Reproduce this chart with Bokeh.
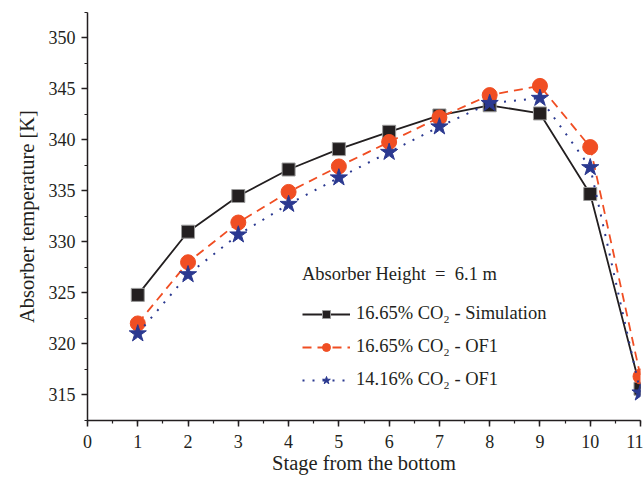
from bokeh.plotting import figure
from bokeh.models import Range1d, SingleIntervalTicker, Legend, LegendItem
from bokeh.embed import file_html
from bokeh.resources import INLINE

stages = [1, 2, 3, 4, 5, 6, 7, 8, 9, 10, 11]
sim_1665 = [324.8, 331.0, 334.5, 337.1, 339.1, 340.8, 342.4, 343.4, 342.6, 334.7, 315.6]
of1_1665 = [322.0, 328.0, 331.9, 334.9, 337.4, 339.8, 342.2, 344.4, 345.3, 339.3, 316.8]
of1_1416 = [321.0, 326.8, 330.7, 333.7, 336.3, 338.8, 341.3, 343.6, 344.1, 337.3, 315.2]
labels = ["16.65% CO\u2082 - Simulation", "16.65% CO\u2082 - OF1", "14.16% CO\u2082 - OF1"]
legend_title = "Absorber Height  =  6.1 m"

FONT = "Liberation Serif"
BLACK = "#231f20"
ORANGE = "#f04e23"
BLUE = "#2b3990"

p = figure(width=643, height=477, output_backend="svg", toolbar_location=None,
           x_range=Range1d(0, 11), y_range=Range1d(312.48, 352.5),
           min_border_left=87, min_border_right=3, min_border_top=12, min_border_bottom=57)
p.outline_line_color = None
p.xgrid.visible = False
p.ygrid.visible = False
p.background_fill_color = "white"
p.border_fill_color = "white"

p.xaxis.ticker = SingleIntervalTicker(interval=1, num_minor_ticks=2)
p.yaxis.ticker = SingleIntervalTicker(interval=5, num_minor_ticks=2)
for ax in (p.xaxis, p.yaxis):
    ax.major_label_text_font = FONT
    ax.major_label_text_font_size = "18px"
    ax.major_label_text_color = "#231f20"
    ax.axis_label_text_font = FONT
    ax.axis_label_text_font_size = "20.5px"
    ax.axis_label_text_font_style = "normal"
    ax.axis_label_text_color = "#231f20"
    ax.axis_line_color = BLACK
    ax.axis_line_width = 1.5
    ax.major_tick_line_color = BLACK
    ax.minor_tick_line_color = BLACK
    ax.major_tick_line_width = 1.5
    ax.minor_tick_line_width = 1.2
    ax.major_tick_in = 0
    ax.major_tick_out = 6
    ax.minor_tick_in = 0
    ax.minor_tick_out = 3
p.xaxis.axis_label = "Stage from the bottom"
p.yaxis.axis_label = "Absorber temperature [K]"
p.xaxis.axis_label_standoff = 1
p.yaxis.axis_label_standoff = 8
p.xaxis.major_label_standoff = 8
p.yaxis.major_label_standoff = 6

l1 = p.line(stages, sim_1665, line_color=BLACK, line_width=1.8)
m1 = p.scatter(stages, sim_1665, marker="square", size=13, fill_color=BLACK,
               line_color="#9a9a9a", line_width=1)
l2 = p.line(stages, of1_1665, line_color=ORANGE, line_width=1.8, line_dash="9 6")
m2 = p.scatter(stages, of1_1665, marker="circle", size=15, fill_color=ORANGE,
               line_color=ORANGE)
l3 = p.line(stages, of1_1416, line_color=BLUE, line_width=2, line_dash="2 8")
m3 = p.scatter(stages, of1_1416, marker="star", size=18, fill_color=BLUE,
               line_color=BLUE)

legend = Legend(items=[LegendItem(label=labels[0], renderers=[l1, m1]),
                       LegendItem(label=labels[1], renderers=[l2, m2]),
                       LegendItem(label=labels[2], renderers=[l3, m3])],
                location=(215, 30))
legend.title = legend_title
legend.title_text_font = FONT
legend.title_text_font_size = "18.5px"
legend.title_text_font_style = "normal"
legend.title_text_color = "#231f20"
legend.title_standoff = 18
legend.label_text_font = FONT
legend.label_text_font_size = "18.5px"
legend.label_text_color = "#231f20"
legend.glyph_width = 48
legend.glyph_height = 20
legend.spacing = 12
legend.label_standoff = 6
legend.border_line_color = None
legend.background_fill_alpha = 0
legend.padding = 4
p.add_layout(legend, "center")

open("out.html", "w").write(file_html(p, INLINE))
